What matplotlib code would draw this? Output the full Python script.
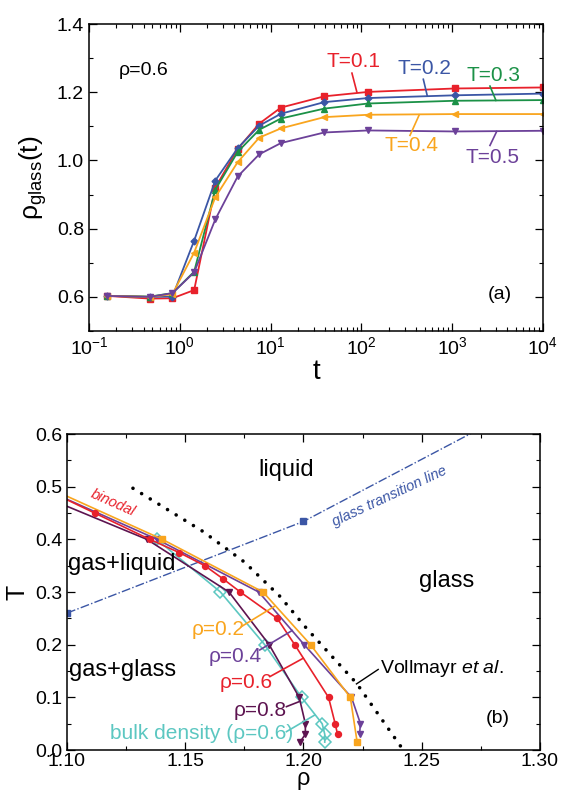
import numpy as np
import matplotlib
matplotlib.use("Agg")
import matplotlib.pyplot as plt
from matplotlib.ticker import LogLocator, MultipleLocator, FormatStrFormatter, NullFormatter

plt.rcParams['font.family'] = ['Liberation Sans', 'DejaVu Sans']
plt.rcParams['mathtext.fontset'] = 'custom'
plt.rcParams['mathtext.rm'] = 'Liberation Sans'
plt.rcParams['mathtext.it'] = 'Liberation Sans:italic'

# ---- panel (a): rho_glass(t) at rho=0.6 ----
t = [0.157, 0.47, 0.83, 1.44, 2.46, 4.34, 7.5, 13.0, 39, 119, 1072, 10000]
rho_T01 = [0.603, 0.595, 0.596, 0.620, 0.920, 1.034, 1.108, 1.155, 1.188, 1.201, 1.211, 1.214]
rho_T02 = [0.603, 0.600, 0.601, 0.765, 0.941, 1.036, 1.102, 1.137, 1.171, 1.183, 1.191, 1.196]
rho_T03 = [0.603, 0.601, 0.611, 0.674, 0.914, 1.025, 1.090, 1.123, 1.152, 1.167, 1.175, 1.177]
rho_T04 = [0.603, 0.600, 0.608, 0.730, 0.892, 0.995, 1.067, 1.094, 1.127, 1.134, 1.136, 1.136]
rho_T05 = [0.603, 0.600, 0.611, 0.672, 0.827, 0.953, 1.018, 1.051, 1.082, 1.088, 1.085, 1.087]

red = '#e8212b'
blue = '#3b56a5'
green = '#1b9147'
orange = '#f9a51e'
purple = '#6c4199'
maroon = '#5d1450'
cyan = '#5cc7c1'

fig = plt.figure(figsize=(5.61, 7.90), dpi=100)

ax1 = fig.add_axes([0.1586, 0.581, 0.8093, 0.3886])
series = [
    (rho_T01, red, 's', 4.5, 'T=0.1'),
    (rho_T02, blue, 'D', 3.5, 'T=0.2'),
    (rho_T03, green, '^', 5, 'T=0.3'),
    (rho_T04, orange, '<', 5, 'T=0.4'),
    (rho_T05, purple, 'v', 5, 'T=0.5'),
]
for vals, c, m, ms, lab in series:
    ax1.plot(t, vals, color=c, marker=m, ms=ms, lw=1.3)

ax1.set_xscale('log')
ax1.set_xlim(0.1, 1e4)
ax1.set_ylim(0.5, 1.4)
ax1.yaxis.set_major_locator(MultipleLocator(0.2))
ax1.yaxis.set_minor_locator(MultipleLocator(0.1))
ax1.yaxis.set_major_formatter(FormatStrFormatter('%.1f'))
ax1.xaxis.set_major_locator(LogLocator(base=10, numticks=10))
ax1.xaxis.set_minor_locator(LogLocator(base=10, subs=np.arange(2, 10), numticks=10))
ax1.xaxis.set_minor_formatter(NullFormatter())
ax1.set_xlabel('t', fontsize=20, labelpad=1)
ax1.set_ylabel(r'ρ$_{\mathrm{glass}}$(t)', fontsize=19, labelpad=6)

ax1.text(0.396, 1.265, 'ρ=0.6', fontsize=14, ha='center', va='center')
ax1.text(4520, 0.608, '(a)', fontsize=14, ha='right', va='center')

lab_a = [
    ('T=0.1', red, (81.5, 1.289), (78.7, 1.256), (89.3, 1.200)),
    ('T=0.2', blue, (489, 1.270), (481, 1.238), (532, 1.189)),
    ('T=0.3', green, (2840, 1.250), (2606, 1.218), (3034, 1.176)),
    ('T=0.4', orange, (358, 1.044), (343, 1.0735), (434, 1.134)),
    ('T=0.5', purple, (2790, 1.008), (2606, 1.044), (3090, 1.085)),
]
for s, c, pos, p0, p1 in lab_a:
    ax1.text(pos[0], pos[1], s, color=c, fontsize=15, ha='center', va='center')
    ax1.plot([p0[0], p1[0]], [p0[1], p1[1]], color=c, lw=1.2)

# ---- panel (b): phase diagram ----
rho_bin06 = [1.0885, 1.1117, 1.135, 1.1474, 1.1583, 1.166, 1.1733, 1.1889, 1.1963, 1.2106, 1.2134, 1.2144]
T_bin06 = [0.50, 0.45, 0.40, 0.375, 0.35, 0.325, 0.30, 0.25, 0.20, 0.10, 0.05, 0.03]
rho_bin02 = [1.0911, 1.1403, 1.1829, 1.2030, 1.2198, 1.2227]
T_bin02 = [0.50, 0.40, 0.30, 0.20, 0.10, 0.015]
rho_bin04 = [1.0880, 1.1381, 1.1811, 1.2003, 1.2203, 1.2241, 1.2237]
T_bin04 = [0.50, 0.40, 0.30, 0.20, 0.10, 0.05, 0.03]
rho_bin08 = [1.0800, 1.1338, 1.1685, 1.1855, 1.1982, 1.2008, 1.2008, 1.1985]
T_bin08 = [0.50, 0.40, 0.30, 0.20, 0.10, 0.05, 0.03, 0.015]
rho_bulk = [1.1379, 1.1649, 1.1836, 1.1992, 1.2079, 1.2090, 1.2090]
T_bulk = [0.40, 0.30, 0.20, 0.10, 0.05, 0.03, 0.015]
rho_gtl = [1.10, 1.20, 1.30]
T_gtl = [0.26, 0.434, 0.67]
rho_voll = [1.1279, 1.1575, 1.1750, 1.1900, 1.2013, 1.2120, 1.2224, 1.2422]
T_voll = [0.497, 0.415, 0.357, 0.292, 0.231, 0.178, 0.127, 0.0]

ax2 = fig.add_axes([0.1194, 0.0506, 0.8431, 0.40])
ax2.plot(rho_gtl, T_gtl, color=blue, lw=1.0, ls='-.', marker='s', ms=4)
ax2.plot(rho_voll, T_voll, color='black', lw=2.6, ls=(0, (0.01, 2.8)), dash_capstyle='round')
ax2.plot(rho_bulk, T_bulk, color=cyan, lw=1.2, marker='D', ms=6, mfc='none', mew=1.1)
ax2.plot(rho_bin08, T_bin08, color=maroon, lw=1.2, marker='v', ms=5)
ax2.plot(rho_bin04, T_bin04, color=purple, lw=1.2, marker='v', ms=5)
ax2.plot(rho_bin02, T_bin02, color=orange, lw=1.2, marker='s', ms=4.5)
ax2.plot(rho_bin06, T_bin06, color=red, lw=1.2, marker='o', ms=4.3)

ax2.set_xlim(1.10, 1.30)
ax2.set_ylim(0.0, 0.6)
ax2.xaxis.set_major_locator(MultipleLocator(0.05))
ax2.xaxis.set_minor_locator(MultipleLocator(0.025))
ax2.xaxis.set_major_formatter(FormatStrFormatter('%.2f'))
ax2.yaxis.set_major_locator(MultipleLocator(0.1))
ax2.yaxis.set_minor_locator(MultipleLocator(0.05))
ax2.yaxis.set_major_formatter(FormatStrFormatter('%.1f'))
ax2.set_xlabel('ρ', fontsize=17)
ax2.xaxis.set_label_coords(0.5, -0.058)
ax2.set_ylabel('T', fontsize=18, labelpad=4)

ax2.text(1.1929, 0.532, 'liquid', fontsize=17, ha='center', va='center')
ax2.text(1.2606, 0.320, 'glass', fontsize=17, ha='center', va='center')
ax2.text(1.1004, 0.354, 'gas+liquid', fontsize=17, ha='left', va='center')
ax2.text(1.1010, 0.152, 'gas+glass', fontsize=17, ha='left', va='center')
ax2.text(1.1196, 0.470, 'binodal', fontsize=10.5, color=red, style='italic',
         ha='center', va='center', rotation=-24)
ax2.text(1.2366, 0.481, 'glass transition line', fontsize=10.5, color=blue, style='italic',
         ha='center', va='center', rotation=25)
ax2.text(1.2873, 0.060, '(b)', fontsize=14, ha='right', va='center')

lab_b = [
    ('ρ=0.2', orange, (1.1640, 0.229), (1.1738, 0.2345), (1.1876, 0.2725)),
    ('ρ=0.4', purple, (1.1713, 0.178), (1.1815, 0.190), (1.1952, 0.2269)),
    ('ρ=0.6', red, (1.1757, 0.128), (1.1858, 0.1394), (1.1999, 0.1743)),
    ('ρ=0.8', maroon, (1.1816, 0.0747), (1.1928, 0.0824), (1.1982, 0.0919)),
    ('bulk density (ρ=0.6)', cyan, (1.1570, 0.0316), (1.1928, 0.0349), (1.2048, 0.0665)),
]
for s, c, pos, p0, p1 in lab_b:
    ax2.text(pos[0], pos[1], s, color=c, fontsize=15, ha='center', va='center')
    ax2.plot([p0[0], p1[0]], [p0[1], p1[1]], color=c, lw=1.2)

ax2.text(1.2323, 0.155, r'Vollmayr $\mathit{et\ al.}$', fontsize=14, ha='left', va='center')
ax2.plot([1.2316, 1.2224], [0.153, 0.1255], color='black', lw=1.0)

for ax in (ax1, ax2):
    ax.tick_params(which='both', direction='in', top=True, right=True, labelsize=14)
    ax.tick_params(which='major', length=6, width=0.9)
    ax.tick_params(which='minor', length=3, width=0.8)
    for sp in ax.spines.values():
        sp.set_linewidth(1.1)
ax2.tick_params(axis='x', pad=2)

fig.savefig('out.png', dpi=100)
